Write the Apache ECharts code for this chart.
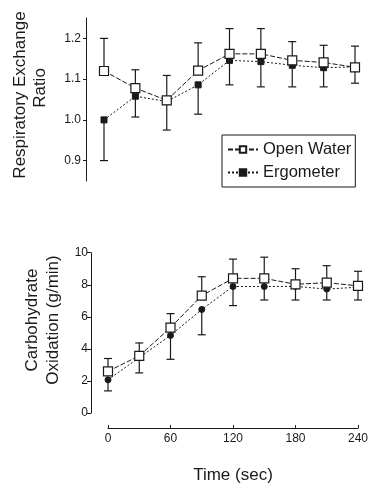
<!DOCTYPE html>
<html>
<head>
<meta charset="utf-8">
<script src="https://cdn.jsdelivr.net/npm/echarts@6/dist/echarts.min.js"></script>
<style>
  html, body { margin: 0; padding: 0; background: #fff; }
  #chart { width: 372px; height: 485px; }
</style>
</head>
<body>
<div id="chart"></div>
<script>
// Sampling times (sec)
const times = [0, 30, 60, 90, 120, 150, 180, 210, 240];

// Respiratory exchange ratio: means and SD (open water bars up, ergometer bars down)
const rerOpenWater = [1.12, 1.078, 1.048, 1.121, 1.162, 1.162, 1.146, 1.141, 1.129];
const rerOpenWaterSD = [0.08, 0.045, 0.061, 0.068, 0.062, 0.062, 0.046, 0.042, 0.052];
const rerErgometer = [1.0, 1.058, 1.045, 1.086, 1.146, 1.143, 1.134, 1.128, 1.13];
const rerErgometerSD = [0.1, 0.051, 0.07, 0.072, 0.06, 0.062, 0.053, 0.047, 0.04];
const rerTicks = [0.9, 1.0, 1.1, 1.2];

// Carbohydrate oxidation (g/min): means and SD
const choOpenWater = [2.6, 3.56, 5.33, 7.32, 8.4, 8.4, 8.03, 8.13, 7.93];
const choOpenWaterSD = [0.8, 0.81, 0.87, 1.18, 1.2, 1.32, 0.97, 1.06, 0.91];
const choErgometer = [2.07, 3.46, 4.84, 6.46, 7.89, 7.89, 7.9, 7.73, 7.85];
const choErgometerSD = [0.69, 0.96, 1.49, 1.58, 1.19, 0.84, 0.85, 0.68, 0.8];

const INK = '#1a1a1a';
const FONT = '"Liberation Sans", Arial, sans-serif';

const pairs = (ys) => times.map((t, i) => [t, ys[i]]);
// [time, mean, bar end]
const bars = (ys, sd, dir) => times.map((t, i) => [t, ys[i], ys[i] + dir * sd[i]]);

function errorBar(params, api) {
  const p0 = api.coord([api.value(0), api.value(1)]);
  const p1 = api.coord([api.value(0), api.value(2)]);
  const cap = 4;
  const style = { stroke: INK, lineWidth: 1.2 };
  return {
    type: 'group',
    children: [
      { type: 'line', shape: { x1: p0[0], y1: p0[1], x2: p1[0], y2: p1[1] }, style },
      { type: 'line', shape: { x1: p1[0] - cap, y1: p1[1], x2: p1[0] + cap, y2: p1[1] }, style }
    ]
  };
}

function errSeries(data, xi, yi) {
  return {
    type: 'custom', xAxisIndex: xi, yAxisIndex: yi, data,
    renderItem: errorBar, z: 1, silent: true,
    encode: { x: 0, y: [1, 2] }
  };
}

const lineOpen = { color: INK, width: 1, type: [5, 2] };
const lineErg = { color: INK, width: 1, type: [2, 2] };

const titleStyle = (text) => ({
  text, font: '17px ' + FONT, fill: INK, align: 'center', verticalAlign: 'middle'
});

const chart = echarts.init(document.getElementById('chart'), null, { renderer: 'canvas' });
chart.setOption({
  animation: false,
  backgroundColor: '#fff',
  textStyle: { fontFamily: FONT, color: INK },
  grid: [
    { left: 104, right: 17, top: 18, height: 163 },
    { left: 108, right: 14, top: 252.7, height: 164 }
  ],
  xAxis: [
    { gridIndex: 0, type: 'value', min: 0, max: 240, show: false },
    {
      gridIndex: 1, type: 'value', min: 0, max: 240, interval: 60, offset: 15,
      axisLine: { onZero: false, lineStyle: { color: INK, width: 1 } },
      axisTick: { inside: true, length: 3, lineStyle: { color: INK } },
      axisLabel: { color: INK, fontSize: 12, margin: 5, fontFamily: FONT },
      splitLine: { show: false },
      name: 'Time (sec)', nameLocation: 'middle', nameGap: 39,
      nameTextStyle: { fontSize: 17, color: INK, fontFamily: FONT }
    }
  ],
  yAxis: [
    {
      gridIndex: 0, type: 'value', min: 0.85, max: 1.25, offset: 18,
      axisLine: { show: true, onZero: false, lineStyle: { color: INK, width: 1 } },
      axisTick: { show: true, length: 3, customValues: rerTicks, lineStyle: { color: INK } },
      axisLabel: {
        customValues: rerTicks, color: INK, fontSize: 12, margin: 5, fontFamily: FONT,
        formatter: (v) => v.toFixed(1)
      },
      splitLine: { show: false }
    },
    {
      gridIndex: 1, type: 'value', min: 0, max: 10, interval: 2, offset: 17,
      axisLine: { show: true, onZero: false, lineStyle: { color: INK, width: 1 } },
      axisTick: { show: true, length: 4, lineStyle: { color: INK } },
      axisLabel: { color: INK, fontSize: 12, margin: 3, fontFamily: FONT },
      splitLine: { show: false }
    }
  ],
  legend: {
    orient: 'vertical', left: 222, top: 135,
    padding: [6, 4, 6, 5], itemGap: 6, itemWidth: 30, itemHeight: 8,
    borderColor: INK, borderWidth: 1,
    textStyle: { fontSize: 16.5, color: INK, fontFamily: FONT, padding: [0, 0, 0, 0] },
    data: ['Open Water', 'Ergometer']
  },
  graphic: [
    { type: 'text', x: 20, y: 95, rotation: Math.PI / 2, style: titleStyle('Respiratory Exchange') },
    { type: 'text', x: 40, y: 88, rotation: Math.PI / 2, style: titleStyle('Ratio') },
    { type: 'text', x: 32, y: 320, rotation: Math.PI / 2, style: titleStyle('Carbohydrate') },
    { type: 'text', x: 53, y: 320, rotation: Math.PI / 2, style: titleStyle('Oxidation (g/min)') }
  ],
  series: [
    errSeries(bars(rerOpenWater, rerOpenWaterSD, 1), 0, 0),
    errSeries(bars(rerErgometer, rerErgometerSD, -1), 0, 0),
    {
      name: 'Open Water', type: 'line', xAxisIndex: 0, yAxisIndex: 0,
      data: pairs(rerOpenWater), symbol: 'rect', symbolSize: 9,
      lineStyle: lineOpen,
      itemStyle: { color: '#fff', borderColor: INK, borderWidth: 1.2 }, z: 3
    },
    {
      name: 'Ergometer', type: 'line', xAxisIndex: 0, yAxisIndex: 0,
      data: pairs(rerErgometer), symbol: 'rect', symbolSize: 6,
      lineStyle: lineErg,
      itemStyle: { color: INK, borderColor: INK, borderWidth: 1 }, z: 2
    },
    errSeries(bars(choOpenWater, choOpenWaterSD, 1), 1, 1),
    errSeries(bars(choErgometer, choErgometerSD, -1), 1, 1),
    {
      name: 'CHO Open Water', type: 'line', xAxisIndex: 1, yAxisIndex: 1,
      data: pairs(choOpenWater), symbol: 'rect', symbolSize: 9,
      lineStyle: lineOpen,
      itemStyle: { color: '#fff', borderColor: INK, borderWidth: 1.2 }, z: 3
    },
    {
      name: 'CHO Ergometer', type: 'line', xAxisIndex: 1, yAxisIndex: 1,
      data: pairs(choErgometer), symbol: 'circle', symbolSize: 6,
      lineStyle: lineErg,
      itemStyle: { color: INK, borderColor: INK, borderWidth: 1 }, z: 2
    }
  ]
});
</script>
</body>
</html>
